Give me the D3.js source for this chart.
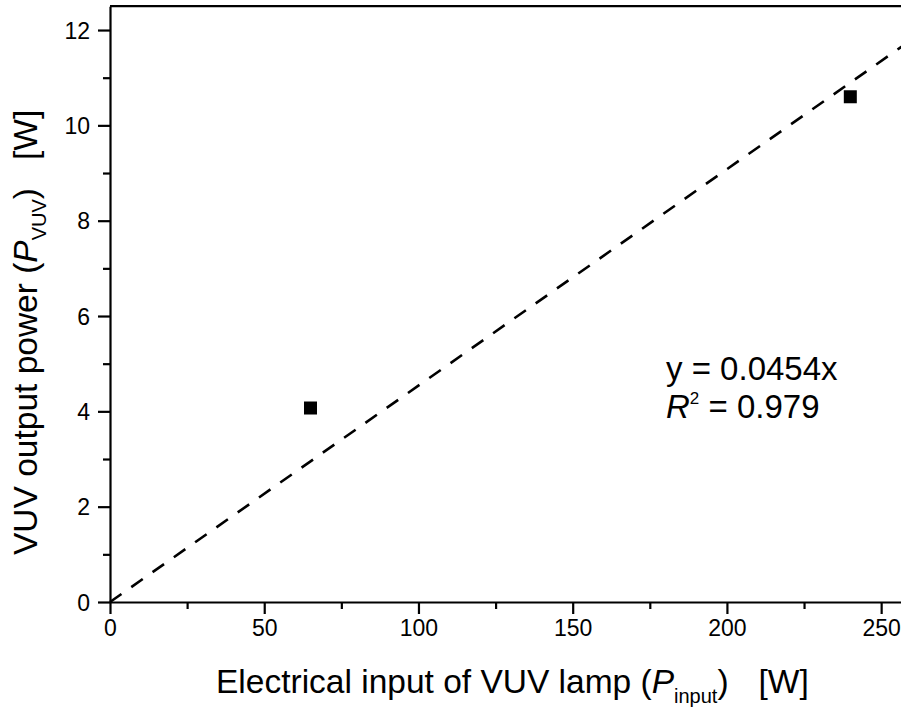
<!DOCTYPE html>
<html>
<head>
<meta charset="utf-8">
<script src="https://cdn.jsdelivr.net/npm/d3@7"></script>
<style>
    body { margin: 0; background: white; }
    text { font-family: "Liberation Sans", Arial, sans-serif; fill: black; }
</style>
</head>
<body>
<svg id="scene"></svg>
<script>
// measured points
let inputPower = [65, 240];
let vuvPower = [4.07, 10.6];
// linear fit through origin
let slope = 0.0454;
let fitText = "y = 0.0454x";
let r2Text = "0.979";
let xTicks = [0, 50, 100, 150, 200, 250];
let xMinor = [25, 75, 125, 175, 225];
let yTicks = [0, 2, 4, 6, 8, 10, 12];
let yMinor = [1, 3, 5, 7, 9, 11];

function init() {
    let width = 901,
        height = 711,
        svg = d3.select('#scene').attr("width", width).attr("height", height);

    let xScale = d3.scaleLinear().domain([0, 260]).range([110, 912]);
    let yScale = d3.scaleLinear().domain([0, 12.5]).range([602, 6.2]);

    // fit line
    let fit = d3.line().x(d => xScale(d)).y(d => yScale(d * slope));
    svg.append('path')
        .datum([0, 260])
        .attr('d', fit)
        .attr('fill', 'none')
        .attr('stroke', 'black')
        .attr('stroke-width', 2.6)
        .attr('stroke-dasharray', '14,12');

    // markers
    svg.selectAll('rect.pt')
        .data(inputPower)
        .enter()
        .append('rect')
        .attr('class', 'pt')
        .attr('x', d => xScale(d) - 6.5)
        .attr('y', (d, i) => yScale(vuvPower[i]) - 6.5)
        .attr('width', 13)
        .attr('height', 13)
        .attr('fill', 'black');

    // axes
    let xAxis = svg.append('g').attr('transform', `translate(0, ${yScale(0)})`)
        .call(d3.axisBottom(xScale).tickValues(xTicks).tickSize(12).tickPadding(6).tickSizeOuter(0));
    xAxis.append('g')
        .call(d3.axisBottom(xScale).tickValues(xMinor).tickSize(7).tickFormat('').tickSizeOuter(0))
        .select('.domain').remove();

    let yAxis = svg.append('g').attr('transform', `translate(${xScale(0)}, 0)`)
        .call(d3.axisLeft(yScale).tickValues(yTicks).tickSize(12).tickPadding(8).tickSizeOuter(0));
    yAxis.append('g')
        .call(d3.axisLeft(yScale).tickValues(yMinor).tickSize(7).tickFormat('').tickSizeOuter(0))
        .select('.domain').remove();

    svg.selectAll('.domain, .tick line')
        .attr('stroke', 'black')
        .attr('stroke-width', 2.2);
    svg.selectAll('.tick text')
        .attr('font-size', '23px')
        .attr('font-family', '"Liberation Sans", Arial, sans-serif')
        .attr('fill', 'black');
    yAxis.selectAll('.tick text').attr('dy', '0.35em');

    // top border
    svg.append('line')
        .attr('x1', xScale(0)).attr('x2', width)
        .attr('y1', yScale(12.5)).attr('y2', yScale(12.5))
        .attr('stroke', 'black')
        .attr('stroke-width', 2.2);

    // axis titles
    let xt = svg.append('text')
        .attr('x', 216)
        .attr('y', 693)
        .attr('font-size', '33.5px');
    xt.append('tspan').text('Electrical input of VUV lamp (');
    xt.append('tspan').attr('font-style', 'italic').text('P');
    xt.append('tspan').attr('font-size', '20px').attr('dy', 10).text('input');
    xt.append('tspan').attr('dy', -10).text(')');
    xt.append('tspan').attr('dx', 30).text('[W]');

    let yt = svg.append('text')
        .attr('transform', 'translate(37, 555) rotate(-90)')
        .attr('font-size', '33.5px');
    yt.append('tspan').text('VUV output power (');
    yt.append('tspan').attr('font-style', 'italic').text('P');
    yt.append('tspan').attr('font-size', '20px').attr('dy', 9).text('VUV');
    yt.append('tspan').attr('dy', -9).text(')');
    yt.append('tspan').attr('dx', 28).text('[W]');

    // fit annotation
    svg.append('text')
        .attr('x', 666)
        .attr('y', 380)
        .attr('font-size', '33px')
        .text(fitText);
    let r = svg.append('text')
        .attr('x', 666)
        .attr('y', 418)
        .attr('font-size', '33px');
    r.append('tspan').attr('font-style', 'italic').text('R');
    r.append('tspan').attr('font-size', '17px').attr('dy', -14).text('2');
    r.append('tspan').attr('dy', 14).text(' = ' + r2Text);
}

onload = function () {
    init();
}
</script>
</body>
</html>
